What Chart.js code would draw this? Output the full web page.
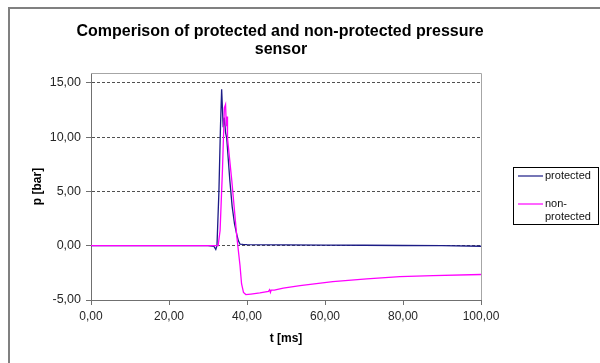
<!DOCTYPE html>
<html>
<head>
<meta charset="utf-8">
<script src="https://cdn.jsdelivr.net/npm/chart.js@4.4.1/dist/chart.umd.min.js"></script>
<style>
  html, body { margin: 0; padding: 0; background: #ffffff; }
  #wrap { width: 600px; height: 363px; }
</style>
</head>
<body>
<div id="wrap"><canvas id="pressureChart" width="600" height="363"></canvas></div>
<script>
// values
const protectedT = [0, 10, 20, 30, 31.5, 32.0, 32.3, 32.8, 33.2, 33.5, 33.9, 34.2, 34.5, 34.8, 35.6, 36.2, 36.8, 37.4, 37.8, 38.2, 39.0, 40.0, 50.0, 60.0, 70.0, 80.0, 90.0, 100.0];
const protectedP = [0, 0, 0, 0, -0.05, -0.35, 0.0, 5.0, 11.0, 14.4, 10.9, 11.8, 10.4, 9.9, 6.0, 3.6, 2.0, 1.0, 0.45, 0.15, 0.12, 0.1, 0.08, 0.06, 0.04, 0.02, 0.0, -0.05];

const nonProtectedT = [0, 10, 20, 30, 32.6, 33.1, 33.7, 34.2, 34.5, 34.7, 34.9, 35.0, 36.1, 37.4, 38.2, 38.6, 39.1, 39.7, 41.0, 43.3, 45.5, 45.8, 46.0, 46.2, 47.0, 49.3, 53.6, 62.0, 70.7, 79.2, 87.7, 100.0];
const nonProtectedP = [0, 0, 0, 0, 0.0, 1.4, 6.9, 12.7, 13.0, 11.0, 11.9, 9.9, 6.0, 0.8, -1.8, -3.5, -4.3, -4.5, -4.45, -4.35, -4.2, -4.05, -4.3, -4.1, -4.1, -3.9, -3.67, -3.3, -3.06, -2.84, -2.75, -2.65];

const seriesNames = ["protected", "non-protected"];
const yTicks = [-5, 0, 5, 10, 15];
const titleLines = ["Comperison of protected and non-protected pressure", "sensor"];

const toPoints = (xs, ys) => xs.map((x, i) => ({x: x, y: ys[i]}));
const fmt = v => v.toFixed(2).replace(".", ",");

// frame, title, plot border and legend
const decor = {
  id: "decor",
  beforeDraw(chart) {
    const ctx = chart.ctx;
    ctx.save();
    ctx.fillStyle = "#ffffff";
    ctx.fillRect(0, 0, chart.width, chart.height);
    ctx.fillStyle = "#808080";
    ctx.fillRect(8, 7, chart.width - 8, 2);
    ctx.fillRect(8, 7, 2, chart.height - 7);
    ctx.restore();
  },
  afterDraw(chart) {
    const ctx = chart.ctx;
    const a = chart.chartArea;
    ctx.save();

    ctx.strokeStyle = "#a6a6a6";
    ctx.lineWidth = 1;
    ctx.beginPath();
    ctx.moveTo(a.left, a.top + 0.5);
    ctx.lineTo(a.right + 0.5, a.top + 0.5);
    ctx.lineTo(a.right + 0.5, a.bottom);
    ctx.stroke();

    ctx.fillStyle = "#000000";
    ctx.font = "bold 16px 'Liberation Sans', Arial, sans-serif";
    ctx.textAlign = "center";
    ctx.textBaseline = "middle";
    ctx.fillText(titleLines[0], 280, 32);
    ctx.fillText(titleLines[1], 281, 50);

    // legend
    ctx.strokeStyle = "#000000";
    ctx.strokeRect(513.5, 167.5, 85, 57);
    const ds = chart.data.datasets;
    ctx.font = "11px 'Liberation Sans', Arial, sans-serif";
    ctx.textAlign = "left";
    ctx.fillStyle = "#111111";
    ctx.lineWidth = 1.2;
    ctx.strokeStyle = ds[0].borderColor;
    ctx.beginPath(); ctx.moveTo(518, 176); ctx.lineTo(543, 176); ctx.stroke();
    ctx.fillText(seriesNames[0], 545, 176);
    ctx.strokeStyle = ds[1].borderColor;
    ctx.beginPath(); ctx.moveTo(518, 204); ctx.lineTo(543, 204); ctx.stroke();
    ctx.fillText("non-", 545, 204);
    ctx.fillText("protected", 545, 217);
    ctx.restore();
  }
};

new Chart(document.getElementById("pressureChart"), {
  type: "line",
  data: {
    datasets: [
      {
        label: seriesNames[0],
        data: toPoints(protectedT, protectedP),
        borderColor: "#1c1c86",
        borderWidth: 1.3,
        pointRadius: 0,
        tension: 0,
        order: 2
      },
      {
        label: seriesNames[1],
        data: toPoints(nonProtectedT, nonProtectedP),
        borderColor: "#ff00ff",
        borderWidth: 1.3,
        pointRadius: 0,
        tension: 0,
        order: 1
      }
    ]
  },
  options: {
    responsive: false,
    animation: false,
    layout: { padding: { top: 73, right: 119, left: 0, bottom: 0 } },
    plugins: {
      legend: { display: false },
      title: { display: false },
      tooltip: { enabled: false }
    },
    scales: {
      x: {
        type: "linear",
        min: 0,
        max: 100,
        ticks: {
          stepSize: 20,
          padding: 4,
          color: "#262626",
          font: { family: "'Liberation Sans', Arial, sans-serif", size: 12 },
          callback: v => fmt(v)
        },
        grid: { drawOnChartArea: false, tickLength: 5, color: "#707070" },
        border: { color: "#707070", width: 1 },
        title: {
          display: true,
          text: "t [ms]",
          color: "#000000",
          font: { family: "'Liberation Sans', Arial, sans-serif", size: 12, weight: "bold" },
          padding: { top: 0, bottom: 17 }
        },
        afterFit: s => { s.height = 63; }
      },
      y: {
        type: "linear",
        min: -5,
        max: 15.9,
        afterBuildTicks: s => { s.ticks = yTicks.map(v => ({value: v})); },
        ticks: {
          padding: 5,
          color: "#262626",
          font: { family: "'Liberation Sans', Arial, sans-serif", size: 12.5 },
          callback: v => fmt(v)
        },
        grid: { color: "#505050", tickLength: 5, tickColor: "#707070", lineWidth: 1 },
        border: { color: "#707070", width: 1, dash: [3, 2] },
        title: {
          display: true,
          text: "p [bar]",
          color: "#000000",
          font: { family: "'Liberation Sans', Arial, sans-serif", size: 12, weight: "bold" },
          padding: { top: 30, bottom: 0 }
        },
        afterFit: s => { s.width = 91; }
      }
    }
  },
  plugins: [decor]
});
</script>
</body>
</html>
